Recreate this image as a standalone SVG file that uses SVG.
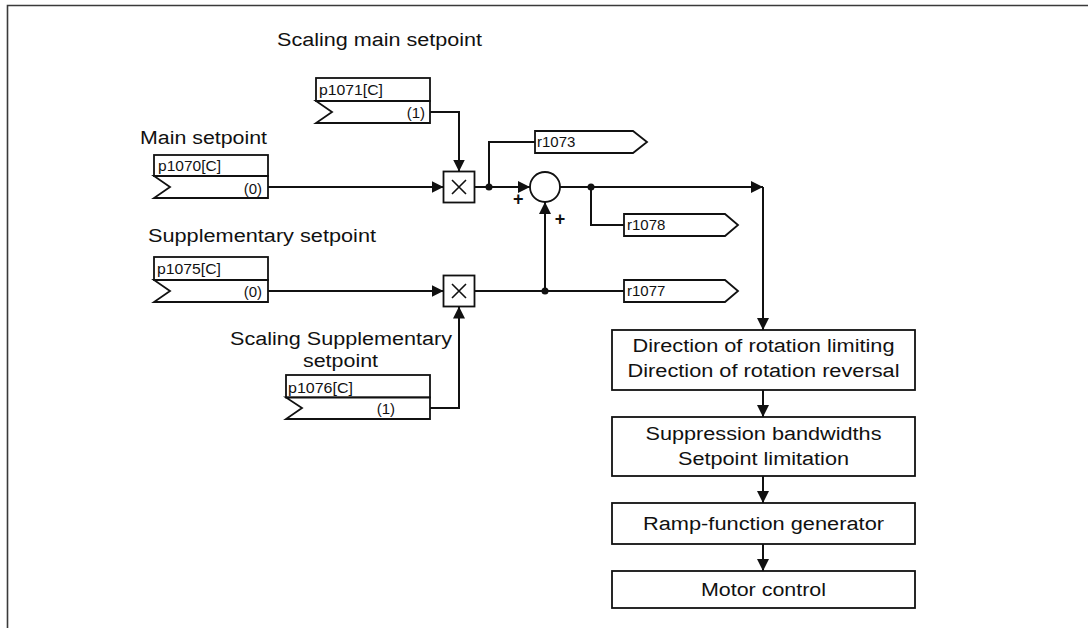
<svg xmlns="http://www.w3.org/2000/svg" width="1088" height="628" viewBox="0 0 1088 628">
<defs>
<style>
.frame{fill:none;stroke:#3a3a3a;stroke-width:1.6}
.box{fill:#fff;stroke:#111;stroke-width:1.8}
.ln{fill:none;stroke:#111;stroke-width:2}
.arr{fill:none;stroke:#111;stroke-width:2;marker-end:url(#ah)}
.lbl{font-family:"Liberation Sans",Arial,Helvetica,sans-serif;font-size:18px;fill:#111}
.sm{font-family:"Liberation Sans",Arial,Helvetica,sans-serif;font-size:15px;fill:#111}
.plus{font-family:"Liberation Sans",Arial,Helvetica,sans-serif;font-size:18px;font-weight:bold;fill:#111}
.dot{fill:#111}
</style>
<marker id="ah" markerWidth="12" markerHeight="12" refX="12" refY="6" orient="auto" markerUnits="userSpaceOnUse">
<path d="M0,0 L12,6 L0,12 z" fill="#111"/>
</marker>
</defs>
<rect width="1088" height="628" fill="#fff"/>
<path class="frame" d="M7.5,628 V5.5 H1088"/>

<g id="labels">
<text class="lbl" x="277" y="46" textLength="205" lengthAdjust="spacingAndGlyphs">Scaling main setpoint</text>
<text class="lbl" x="140" y="144" textLength="127" lengthAdjust="spacingAndGlyphs">Main setpoint</text>
<text class="lbl" x="148" y="242" textLength="228" lengthAdjust="spacingAndGlyphs">Supplementary setpoint</text>
<text class="lbl" x="230" y="345" textLength="222" lengthAdjust="spacingAndGlyphs">Scaling Supplementary</text>
<text class="lbl" x="303" y="367" textLength="75" lengthAdjust="spacingAndGlyphs">setpoint</text>
</g>

<g id="p1071">
<rect class="box" x="316" y="78" width="114" height="23"/>
<path class="box" d="M316,101 H430 V123 H316 L332,112 Z"/>
<text class="sm" x="319" y="95" textLength="64" lengthAdjust="spacingAndGlyphs">p1071[C]</text>
<text class="sm" x="425" y="118" text-anchor="end">(1)</text>
</g>

<g id="p1070">
<rect class="box" x="154" y="155" width="114" height="21"/>
<path class="box" d="M154,176 H268 V198 H154 L170,187 Z"/>
<text class="sm" x="158" y="171" textLength="63" lengthAdjust="spacingAndGlyphs">p1070[C]</text>
<text class="sm" x="262" y="194" text-anchor="end">(0)</text>
</g>

<g id="p1075">
<rect class="box" x="154" y="257" width="114" height="23"/>
<path class="box" d="M154,280 H268 V302 H154 L170,291 Z"/>
<text class="sm" x="157" y="274" textLength="64" lengthAdjust="spacingAndGlyphs">p1075[C]</text>
<text class="sm" x="262" y="297" text-anchor="end">(0)</text>
</g>

<g id="p1076">
<rect class="box" x="286" y="375" width="144" height="22.5"/>
<path class="box" d="M286,397.5 H430 V419 H286 L302,408 Z"/>
<text class="sm" x="288" y="393" textLength="65" lengthAdjust="spacingAndGlyphs">p1076[C]</text>
<text class="sm" x="395" y="414" text-anchor="end">(1)</text>
</g>

<g id="mult1">
<rect class="box" x="443.5" y="171.5" width="31" height="31"/>
<path class="ln" d="M452,180 L466,194 M466,180 L452,194" style="stroke-width:1.6"/>
</g>

<g id="mult2">
<rect class="box" x="443.5" y="275.5" width="31" height="31"/>
<path class="ln" d="M452,284 L466,298 M466,284 L452,298" style="stroke-width:1.6"/>
</g>

<g id="sum">
<circle class="box" cx="545" cy="187" r="15"/>
<text class="plus" x="513" y="205">+</text>
<text class="plus" x="560" y="225" text-anchor="middle">+</text>
</g>

<g id="r1073">
<path class="box" d="M535,131 H633 L647,142 L633,153 H535 Z"/>
<text class="sm" x="537" y="147">r1073</text>
</g>

<g id="r1078">
<path class="box" d="M624,214 H725 L738,225 L725,236 H624 Z"/>
<text class="sm" x="627" y="230">r1078</text>
</g>

<g id="r1077">
<path class="box" d="M624,280 H725 L738,291 L725,302 H624 Z"/>
<text class="sm" x="627" y="296">r1077</text>
</g>

<g id="block1">
<rect class="box" x="612" y="330" width="303" height="60"/>
<text class="lbl" x="763.5" y="352" text-anchor="middle" textLength="262" lengthAdjust="spacingAndGlyphs">Direction of rotation limiting</text>
<text class="lbl" x="763.5" y="377" text-anchor="middle" textLength="272" lengthAdjust="spacingAndGlyphs">Direction of rotation reversal</text>
</g>

<g id="block2">
<rect class="box" x="612" y="417" width="303" height="59"/>
<text class="lbl" x="763.5" y="440" text-anchor="middle" textLength="236" lengthAdjust="spacingAndGlyphs">Suppression bandwidths</text>
<text class="lbl" x="763.5" y="465" text-anchor="middle" textLength="171" lengthAdjust="spacingAndGlyphs">Setpoint limitation</text>
</g>

<g id="block3">
<rect class="box" x="612" y="503" width="303" height="41"/>
<text class="lbl" x="763.5" y="530" text-anchor="middle" textLength="241" lengthAdjust="spacingAndGlyphs">Ramp-function generator</text>
</g>

<g id="block4">
<rect class="box" x="612" y="571" width="303" height="37"/>
<text class="lbl" x="763.5" y="596" text-anchor="middle" textLength="125" lengthAdjust="spacingAndGlyphs">Motor control</text>
</g>

<g id="connectors">
<path class="arr" d="M430,112 H459 V171.5"/>
<path class="arr" d="M268,187 H443.5"/>
<path class="arr" d="M474.5,187 H530"/>
<path class="ln" d="M489,187 V142 H535"/>
<path class="arr" d="M560,187 H763"/>
<path class="arr" d="M763,187 V330"/>
<path class="ln" d="M591,187 V225 H624"/>
<path class="arr" d="M268,291 H443.5"/>
<path class="ln" d="M474.5,291 H624"/>
<path class="arr" d="M545,291 V202"/>
<path class="arr" d="M430,408 H459 V306.5"/>
<path class="arr" d="M763,390 V417"/>
<path class="arr" d="M763,476 V503"/>
<path class="arr" d="M763,544 V571"/>
<circle class="dot" cx="489" cy="187" r="3.5"/>
<circle class="dot" cx="591" cy="187" r="3.5"/>
<circle class="dot" cx="545" cy="291" r="3.5"/>
</g>
</svg>
